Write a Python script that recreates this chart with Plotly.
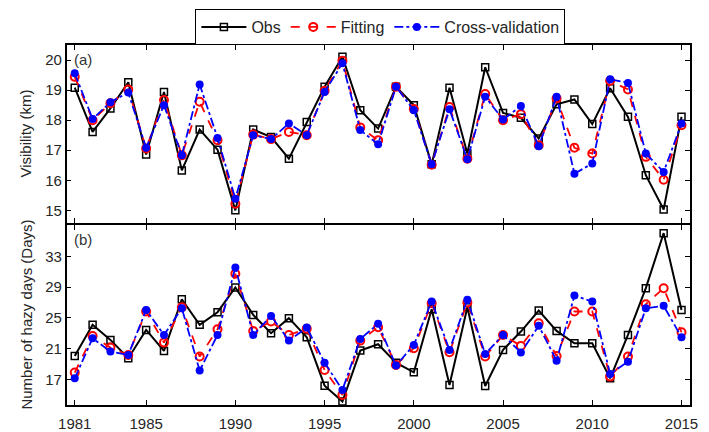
import plotly.graph_objects as go

years = list(range(1981, 2016))

vis_obs = [19.08, 17.61, 18.39, 19.26, 16.86, 18.94, 16.33, 17.69, 17.02, 15.0,
           17.69, 17.44, 16.72, 17.94, 19.11, 20.11, 18.33, 17.72, 19.11, 18.5,
           16.53, 19.08, 16.89, 19.76, 18.24, 18.08, 17.39, 18.53, 18.69, 17.87,
           19.06, 18.11, 16.17, 15.03, 18.11]
vis_fit = [19.44, 18.0, 18.56, 19.02, 17.06, 18.67, 16.83, 18.61, 17.33, 15.22,
           17.52, 17.37, 17.61, 17.5, 18.98, 19.98, 17.76, 17.33, 19.11, 18.37,
           16.52, 18.44, 16.72, 18.87, 18.0, 18.2, 17.17, 18.72, 17.08, 16.89,
           19.31, 19.02, 16.78, 16.02, 17.83]
vis_cv = [19.56, 18.04, 18.6, 18.92, 17.08, 18.5, 16.83, 19.19, 17.41, 15.39,
          17.5, 17.37, 17.89, 17.5, 18.94, 19.89, 17.67, 17.2, 19.11, 18.33,
          16.53, 18.36, 16.7, 18.78, 18.02, 18.47, 17.13, 18.78, 16.22, 16.56,
          19.36, 19.24, 16.89, 16.28, 17.89]

haze_obs = [20.04, 24.09, 22.13, 19.74, 23.43, 20.7, 27.43, 24.09, 25.74, 28.96,
            25.39, 23.0, 24.96, 22.48, 16.17, 14.09, 20.74, 21.57, 19.17, 17.91,
            26.13, 16.26, 26.39, 16.13, 20.83, 23.22, 25.96, 23.3, 21.7, 21.7,
            17.13, 22.78, 28.87, 36.04, 26.04]
haze_fit = [17.87, 22.65, 21.13, 20.17, 25.83, 21.78, 26.39, 19.96, 23.52, 30.74,
            23.3, 24.52, 22.78, 23.57, 18.22, 14.96, 22.04, 23.78, 18.87, 21.04,
            26.91, 20.52, 27.0, 19.96, 22.78, 21.35, 24.3, 20.04, 25.83, 25.83,
            17.35, 19.96, 26.78, 28.87, 23.13]
haze_cv = [17.13, 22.35, 20.61, 20.17, 26.04, 22.78, 26.26, 18.13, 22.78, 31.57,
           22.78, 25.26, 22.04, 23.74, 19.17, 15.61, 22.26, 24.22, 18.78, 21.48,
           27.13, 20.83, 27.35, 20.3, 22.78, 20.48, 23.96, 19.43, 27.91, 27.13,
           17.7, 19.3, 26.26, 26.57, 22.48]

xticks = [1981, 1985, 1990, 1995, 2000, 2005, 2010, 2015]
vis_ticks = [15, 16, 17, 18, 19, 20]
haze_ticks = [17, 21, 25, 29, 33]

names = ["Obs", "Fitting", "Cross-validation"]
styles = [
    dict(color="black", dash="solid", width=2, symbol="square-open", msize=7, mline=1.5),
    dict(color="red", dash="dash", width=1.8, symbol="circle-open", msize=8, mline=2),
    dict(color="blue", dash="dashdot", width=1.8, symbol="circle", msize=8, mline=0),
]

FONT = "Liberation Sans, Arial, Helvetica"
TXT = "#262626"

fig = go.Figure()
for i, (vals, st) in enumerate(zip([vis_obs, vis_fit, vis_cv], styles)):
    fig.add_trace(go.Scatter(
        x=years, y=vals, mode="lines+markers", name=names[i],
        line=dict(color=st["color"], dash=st["dash"], width=st["width"]),
        marker=dict(symbol=st["symbol"], size=st["msize"], color=st["color"],
                    line=dict(color=st["color"], width=st["mline"])),
        xaxis="x", yaxis="y", showlegend=True))
for i, (vals, st) in enumerate(zip([haze_obs, haze_fit, haze_cv], styles)):
    fig.add_trace(go.Scatter(
        x=years, y=vals, mode="lines+markers", name=names[i],
        line=dict(color=st["color"], dash=st["dash"], width=st["width"]),
        marker=dict(symbol=st["symbol"], size=st["msize"], color=st["color"],
                    line=dict(color=st["color"], width=st["mline"])),
        xaxis="x2", yaxis="y2", showlegend=False))

axis_common = dict(showline=True, linecolor="black", linewidth=1.5, mirror="allticks",
                   ticks="inside", ticklen=5, tickcolor="black", showgrid=False,
                   zeroline=False, tickfont=dict(family=FONT, size=15, color=TXT))

xdom = [60 / 709, 698 / 709]
xrange = [1980.546, 2015.49]
fig.update_layout(
    width=709, height=432,
    margin=dict(l=0, r=0, t=0, b=0),
    paper_bgcolor="white", plot_bgcolor="white",
    font=dict(family=FONT, size=15, color=TXT),
    xaxis=dict(domain=xdom, anchor="y", range=xrange, tickvals=xticks,
               showticklabels=False, **axis_common),
    yaxis=dict(domain=[1 - 223 / 432, 1 - 45 / 432], anchor="x", range=[14.58, 20.5],
               tickvals=vis_ticks, **axis_common),
    xaxis2=dict(domain=xdom, anchor="y2", range=xrange, tickvals=xticks,
                ticklabelstandoff=4, **axis_common),
    yaxis2=dict(domain=[1 - 405 / 432, 1 - 225 / 432], anchor="x2", range=[13.65, 37.1],
                tickvals=haze_ticks, **axis_common),
    legend=dict(orientation="h", x=381 / 709, xanchor="center", y=1 - 9 / 432, yanchor="top",
                bordercolor="black", borderwidth=1, bgcolor="white",
                font=dict(family=FONT, size=16, color=TXT),
                itemwidth=45, tracegroupgap=0),
    annotations=[
        dict(text="Visibility (km)", x=18 / 709, y=1 - 134 / 432, xref="paper", yref="paper",
             xanchor="center", yanchor="middle", textangle=-90, showarrow=False,
             font=dict(family=FONT, size=15, color=TXT)),
        dict(text="Number of hazy days (Days)", x=18 / 709, y=1 - 315 / 432, xref="paper",
             yref="paper", xanchor="center", yanchor="middle", textangle=-90, showarrow=False,
             font=dict(family=FONT, size=15, color=TXT)),
        dict(text="(a)", x=0.008, y=0.98, xref="x domain", yref="y domain",
             xanchor="left", yanchor="top", showarrow=False,
             font=dict(family=FONT, size=15, color="#333333")),
        dict(text="(b)", x=0.008, y=0.98, xref="x2 domain", yref="y2 domain",
             xanchor="left", yanchor="top", showarrow=False,
             font=dict(family=FONT, size=15, color="#333333")),
    ],
)

fig.write_html("out.html")
